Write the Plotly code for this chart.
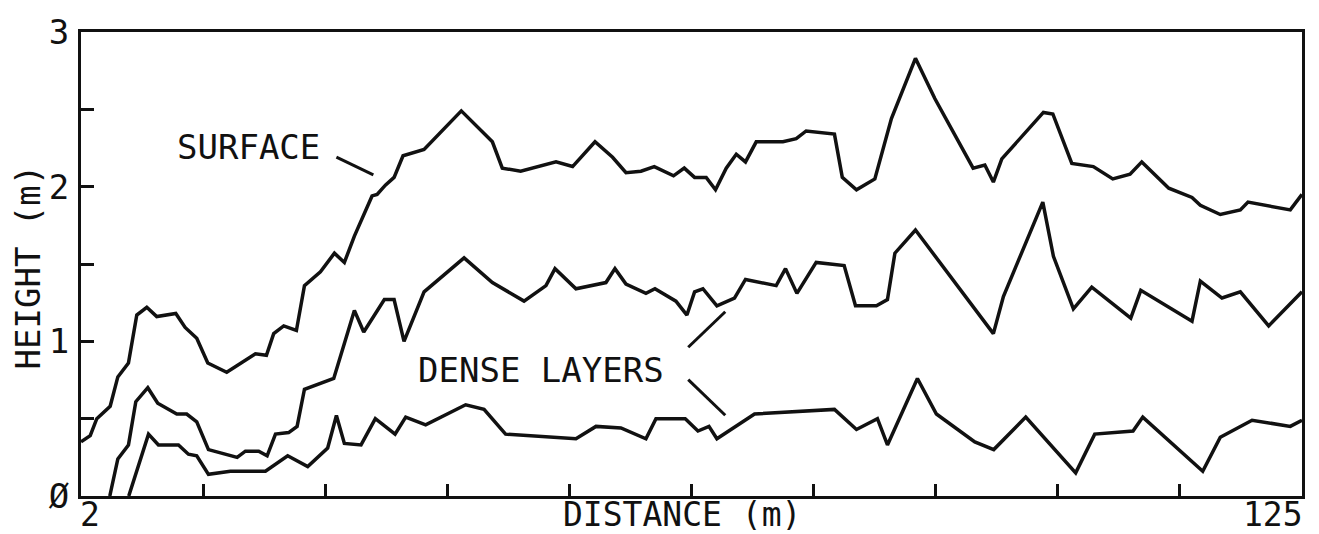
import plotly.graph_objects as go

# ---- data (distance in m, height in m) ----
surface_x = [2.0, 2.93, 3.59, 4.94, 5.71, 6.78, 7.62, 8.63, 9.63, 11.55, 12.49, 13.66, 14.77, 16.68,
             19.57, 20.68, 21.41, 22.42, 23.70, 24.51, 26.12, 27.53, 28.53, 29.54, 31.32, 31.83, 32.66,
             33.54, 34.44, 36.56, 40.31, 43.44, 44.44, 46.29, 49.85, 51.52, 53.78, 55.55, 56.90, 58.41,
             59.75, 61.69, 62.77, 63.81, 64.98, 65.92, 67.00, 68.01, 68.94, 70.02, 72.71, 74.05, 75.05,
             77.90, 78.69, 80.12, 81.97, 83.64, 86.06, 88.01, 91.87, 93.05, 93.91, 94.76, 98.95, 99.90,
             101.81, 103.98, 105.94, 107.68, 108.86, 111.58, 113.92, 114.76, 116.77, 118.79, 119.56,
             123.82, 125.0]
surface_y = [0.35, 0.39, 0.50, 0.58, 0.77, 0.86, 1.17, 1.22, 1.16, 1.18, 1.09, 1.02, 0.86, 0.80,
             0.92, 0.91, 1.05, 1.10, 1.07, 1.36, 1.45, 1.57, 1.51, 1.68, 1.94, 1.95, 2.01,
             2.06, 2.20, 2.24, 2.49, 2.29, 2.12, 2.10, 2.16, 2.13, 2.29, 2.19, 2.09, 2.10,
             2.13, 2.07, 2.12, 2.06, 2.06, 1.98, 2.12, 2.21, 2.16, 2.29, 2.29, 2.31, 2.36,
             2.34, 2.06, 1.98, 2.05, 2.44, 2.83, 2.57, 2.12, 2.14, 2.03, 2.18, 2.48, 2.47,
             2.15, 2.13, 2.05, 2.08, 2.16, 1.99, 1.93, 1.88, 1.82, 1.85, 1.90,
             1.85, 1.95]

dense_upper_x = [4.90, 5.71, 6.78, 7.52, 8.73, 9.73, 11.65, 12.65, 13.66, 14.84, 17.73, 18.56, 19.90,
                 20.75, 21.59, 22.92, 23.77, 24.51, 27.46, 29.54, 30.48, 32.56, 33.54, 34.54, 36.56,
                 40.59, 43.44, 46.63, 48.84, 49.75, 51.86, 54.88, 55.79, 56.90, 58.91, 59.82, 61.93,
                 63.04, 63.81, 64.65, 66.06, 67.83, 68.94, 72.03, 72.97, 74.12, 76.06, 78.88, 80.02,
                 82.13, 83.24, 83.99, 86.06, 93.91, 94.92, 98.89, 99.96, 101.97, 103.82, 107.75,
                 108.76, 113.92, 114.76, 116.94, 118.79, 121.64, 125.0]
dense_upper_y = [0.0, 0.24, 0.33, 0.61, 0.70, 0.60, 0.53, 0.53, 0.48, 0.30, 0.25, 0.29, 0.29,
                 0.26, 0.40, 0.41, 0.45, 0.69, 0.76, 1.20, 1.06, 1.27, 1.27, 1.00, 1.32,
                 1.54, 1.38, 1.26, 1.36, 1.47, 1.34, 1.38, 1.47, 1.37, 1.31, 1.34, 1.26,
                 1.17, 1.32, 1.34, 1.23, 1.28, 1.40, 1.36, 1.47, 1.31, 1.51, 1.49, 1.23,
                 1.23, 1.27, 1.57, 1.72, 1.05, 1.29, 1.90, 1.55, 1.21, 1.35, 1.15,
                 1.33, 1.13, 1.39, 1.28, 1.32, 1.10, 1.32]

dense_lower_x = [6.81, 8.80, 9.80, 11.82, 12.82, 13.66, 14.84, 17.05, 20.58, 22.82, 24.84, 26.85,
                 27.73, 28.53, 30.21, 31.65, 33.64, 34.71, 36.72, 40.75, 42.60, 44.77, 51.86, 53.88,
                 56.39, 58.91, 59.92, 62.87, 64.15, 65.26, 66.06, 69.85, 77.90, 80.12, 82.23, 83.24,
                 86.26, 88.17, 92.04, 93.95, 97.17, 102.20, 104.12, 107.98, 108.96, 115.00, 116.77,
                 119.97, 123.82, 125.0]
dense_lower_y = [0.0, 0.40, 0.33, 0.33, 0.27, 0.26, 0.14, 0.16, 0.16, 0.26, 0.19, 0.31,
                 0.52, 0.34, 0.33, 0.50, 0.40, 0.51, 0.46, 0.59, 0.56, 0.40, 0.37, 0.45,
                 0.44, 0.37, 0.50, 0.50, 0.42, 0.45, 0.37, 0.53, 0.56, 0.43, 0.50, 0.33,
                 0.76, 0.53, 0.35, 0.30, 0.51, 0.15, 0.40, 0.42, 0.51, 0.16, 0.38,
                 0.49, 0.45, 0.49]

y_tick_vals = [0, 0.5, 1, 1.5, 2, 2.5, 3]
y_tick_text = ["Ø", "", "1", "", "2", "", "3"]
x_tick_labels = ["2", "125"]
x_range = [2, 125]
y_range = [0, 3]

FONT = "DejaVu Sans Mono"
FS = 34
FS_BOTTOM = 33
INK = "#111111"

fig = go.Figure()
for xs, ys, name in [(surface_x, surface_y, "Surface"),
                     (dense_upper_x, dense_upper_y, "Dense layer (upper)"),
                     (dense_lower_x, dense_lower_y, "Dense layer (lower)")]:
    fig.add_trace(go.Scatter(x=xs, y=ys, mode="lines", name=name,
                             line=dict(color=INK, width=3.5), showlegend=False,
                             hoverinfo="skip"))

fig.update_layout(
    width=1319, height=534,
    margin=dict(l=81, r=17, t=25, b=38),
    paper_bgcolor="white", plot_bgcolor="white",
    font=dict(family=FONT, size=FS, color=INK),
    xaxis=dict(range=x_range, showgrid=False, zeroline=False,
               showline=True, linecolor=INK, linewidth=3, mirror=True,
               ticks="inside", tickmode="linear", tick0=2, dtick=12.3,
               ticklen=12, tickwidth=2.5, tickcolor=INK, showticklabels=False),
    yaxis=dict(range=y_range, showgrid=False, zeroline=False,
               showline=True, linecolor=INK, linewidth=3, mirror=True,
               ticks="inside", tickmode="array", tickvals=y_tick_vals, ticktext=y_tick_text,
               ticklen=13, tickwidth=2.5, tickcolor=INK,
               tickfont=dict(family=FONT, size=FS, color=INK), ticklabelstandoff=2),
)

annotations = [
    dict(text="SURFACE", x=18.87, y=2.255, xref="x", yref="y", showarrow=False,
         xanchor="center", yanchor="middle", font_size=FS),
    dict(text="DENSE LAYERS", x=48.37, y=0.815, xref="x", yref="y", showarrow=False,
         xanchor="center", yanchor="middle", font_size=FS),
    dict(text=x_tick_labels[0], x=x_range[0], y=0, xref="x", yref="paper", showarrow=False,
         xanchor="left", yanchor="middle", xshift=-3, yshift=-18, font_size=FS_BOTTOM),
    dict(text=x_tick_labels[1], x=x_range[1], y=0, xref="x", yref="paper", showarrow=False,
         xanchor="right", yanchor="middle", xshift=3, yshift=-18, font_size=FS_BOTTOM),
    dict(text="DISTANCE (m)", x=0.4922, y=0, xref="paper", yref="paper", showarrow=False,
         xanchor="center", yanchor="middle", yshift=-18, font_size=FS_BOTTOM),
    dict(text="HEIGHT (m)", x=0, y=0.4926, xref="paper", yref="paper", showarrow=False,
         xanchor="center", yanchor="middle", xshift=-53, textangle=-90, font_size=FS),
]
for a in annotations:
    size = a.pop("font_size")
    a["font"] = dict(family=FONT, size=size, color=INK)
fig.update_layout(annotations=annotations)

leaders = [
    (27.73, 2.191, 31.45, 2.076),
    (63.17, 0.962, 66.90, 1.191),
    (63.17, 0.752, 66.90, 0.522),
]
for x0, y0, x1, y1 in leaders:
    fig.add_shape(type="line", x0=x0, y0=y0, x1=x1, y1=y1, xref="x", yref="y",
                  line=dict(color=INK, width=3))

fig.write_html("out.html")
